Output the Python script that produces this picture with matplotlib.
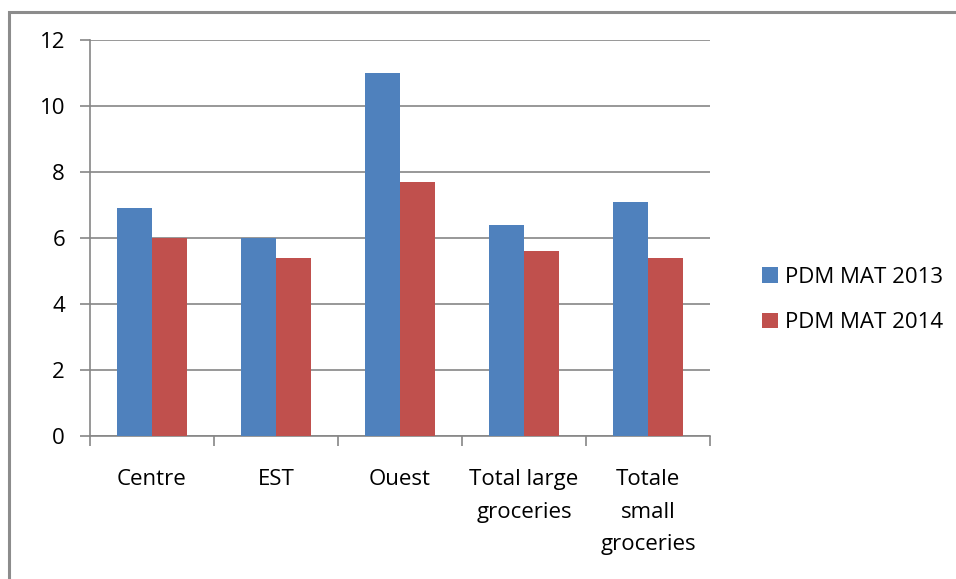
import numpy as np
import matplotlib.pyplot as plt
from matplotlib.patches import Rectangle

categories = ["Centre", "EST", "Ouest", "Total large\ngroceries", "Totale\nsmall\ngroceries"]
pdm_2013 = [6.9, 6.0, 11.0, 6.4, 7.1]
pdm_2014 = [6.0, 5.4, 7.7, 5.6, 5.4]
series_names = ["PDM MAT 2013", "PDM MAT 2014"]
yticks = [0, 2, 4, 6, 8, 10, 12]

blue = "#4F81BD"
red = "#C0504D"
grid_col = "#868686"
fs = 16

plt.rcParams['font.family'] = ['Open Sans', 'DejaVu Sans']

fig = plt.figure(figsize=(9.56, 5.79), dpi=100)
W, H = 956, 579
ax = fig.add_axes([90 / W, 1 - 436 / H, 620 / W, 396 / H])

# outer chart frame (only left/top visible in the reference)
fig.patches.append(Rectangle((9 / W, -0.05), 1.1, 1 - 12 / H + 0.05, transform=fig.transFigure,
                             fill=False, edgecolor="#8c8c8c", linewidth=2.2))

x = np.arange(len(categories))
w = 0.282
b1 = ax.bar(x - w / 2, pdm_2013, w, color=blue, label=series_names[0], zorder=3)
b2 = ax.bar(x + w / 2, pdm_2014, w, color=red, label=series_names[1], zorder=3)

ax.set_xlim(-0.5, len(categories) - 0.5)
ax.set_ylim(0, 12)
ax.set_yticks(yticks)
ax.set_yticklabels([str(v) for v in yticks], fontsize=fs)
ax.yaxis.grid(True, color=grid_col, linewidth=1.2, zorder=0)

ax.set_xticks(np.arange(len(categories) + 1) - 0.5)
ax.set_xticklabels([])
ax.set_xticks(x, minor=True)
ax.set_xticklabels(categories, minor=True, fontsize=fs, linespacing=1.7, va="top")
ax.tick_params(axis="x", which="minor", length=0, pad=24)
ax.tick_params(axis="x", which="major", length=7, width=1.2, color=grid_col, direction="out")
ax.tick_params(axis="y", length=7, width=1.2, color=grid_col, pad=11)

for s in ["top", "right"]:
    ax.spines[s].set_visible(False)
for s in ["left", "bottom"]:
    ax.spines[s].set_color(grid_col)
    ax.spines[s].set_linewidth(1.2)

fig.legend(handles=[b1, b2], labels=series_names, loc="center left",
           bbox_to_anchor=(742 / W, 1 - 300 / H), frameon=False, fontsize=fs,
           handlelength=0.7, handleheight=0.7, handletextpad=0.35, labelspacing=1.1)

fig.savefig("out.png", dpi=100)
